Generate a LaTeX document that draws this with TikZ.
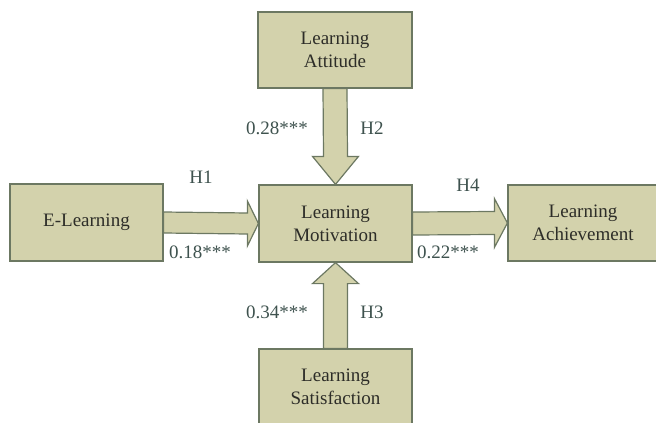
\documentclass[tikz,border=0pt]{standalone}
\usepackage{fontspec}
\setmainfont{Liberation Serif}
\usetikzlibrary{calc}
\definecolor{boxfill}{RGB}{211,210,172}
\definecolor{boxline}{RGB}{108,120,98}
\definecolor{labgrey}{RGB}{62,82,78}
\definecolor{txtgrey}{RGB}{45,45,40}
\begin{document}
\begin{tikzpicture}[x=1pt,y=-1pt,line join=miter,
    varbox/.style={draw=boxline,fill=boxfill,line width=1.2pt,text=txtgrey,align=center,
      inner sep=0pt,font=\fontsize{19}{23}\selectfont},
    fatarrow/.style={draw=boxline,fill=boxfill,line width=1.2pt},
    coef/.style={text=labgrey,font=\fontsize{19}{23}\selectfont,inner sep=0pt}]
    \useasboundingbox (0,0) rectangle (656,423);
    \node[varbox,minimum width=154pt,minimum height=76pt] (attitude) at (335,50) {Learning\\Attitude};
    \node[varbox,minimum width=153pt,minimum height=77pt] (motiv) at (335.5,223.5) {Learning\\Motivation};
    \node[varbox,minimum width=153pt,minimum height=77pt] (elearn) at (86.5,222.5) {E-Learning};
    \node[varbox,minimum width=150pt,minimum height=76pt] (achieve) at (583,223) {Learning\\Achievement};
    \node[varbox,minimum width=153pt,minimum height=76pt] (satisf) at (335.5,387) {Learning\\Satisfaction};
    % H1
    \draw[fatarrow] ($(elearn.east)+(0,-10.5)$) -- ($(motiv.west)+(-11,-10.5)$) -- ($(motiv.west)+(-11,-22.5)$)
      -- (motiv.west) -- ($(motiv.west)+(-11,22.5)$) -- ($(motiv.west)+(-11,10.5)$) -- ($(elearn.east)+(0,10.5)$) -- cycle;
    % H4
    \draw[fatarrow] ($(motiv.east)+(0,-11.5)$) -- ($(achieve.west)+(-13,-11.5)$) -- ($(achieve.west)+(-13,-24.5)$)
      -- (achieve.west) -- ($(achieve.west)+(-13,24.5)$) -- ($(achieve.west)+(-13,11.5)$) -- ($(motiv.east)+(0,11.5)$) -- cycle;
    % H2
    \draw[fatarrow] ($(attitude.south)+(-12,0)$) -- ($(motiv.north)+(-12,-28)$) -- ($(motiv.north)+(-23,-28)$)
      -- (motiv.north) -- ($(motiv.north)+(23,-28)$) -- ($(motiv.north)+(12,-28)$) -- ($(attitude.south)+(12,0)$) -- cycle;
    % H3
    \draw[fatarrow] ($(satisf.north)+(-12,0)$) -- ($(motiv.south)+(-12,21)$) -- ($(motiv.south)+(-23,21)$)
      -- (motiv.south) -- ($(motiv.south)+(23,21)$) -- ($(motiv.south)+(12,21)$) -- ($(satisf.north)+(12,0)$) -- cycle;
    % path labels
    \node[coef] (h1) at (201,177) {H1};
    \node[coef] (c1) at (200,252) {0.18***};
    \node[coef] (h4) at (468,185) {H4};
    \node[coef] (c4) at (448,252) {0.22***};
    \node[coef] (c2) at (277,128) {0.28***};
    \node[coef] (h2) at (372,128) {H2};
    \node[coef] (c3) at (277,312) {0.34***};
    \node[coef] (h3) at (372,312) {H3};
\end{tikzpicture}
\end{document}
